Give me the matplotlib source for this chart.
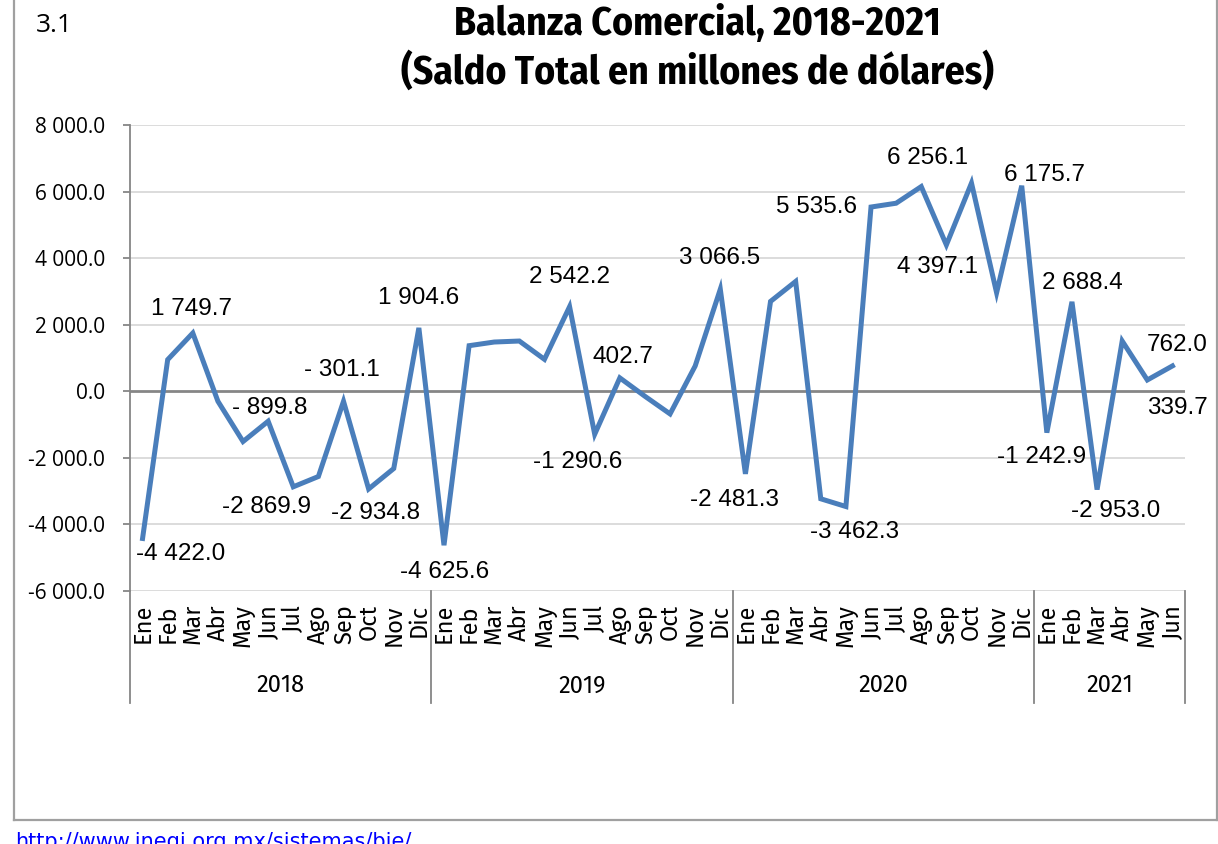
import matplotlib

matplotlib.use("Agg")
import matplotlib.pyplot as plt
from matplotlib.lines import Line2D


MONTHS = ["Ene", "Feb", "Mar", "Abr", "May", "Jun",
          "Jul", "Ago", "Sep", "Oct", "Nov", "Dic"]
YEARS = ["2018", "2019", "2020", "2021"]
MONTHS_PER_YEAR = [12, 12, 12, 6]

# saldo mensual, millones de dolares (read off the chart where no label is shown)
SALDO_2018 = [-4422.0, 950.0, 1749.7, -300.0, -1510.0, -899.8,
              -2869.9, -2560.0, -301.1, -2934.8, -2320.0, 1904.6]
SALDO_2019 = [-4625.6, 1370.0, 1480.0, 1510.0, 960.0, 2542.2,
              -1290.6, 402.7, -150.0, -680.0, 760.0, 3066.5]
SALDO_2020 = [-2481.3, 2700.0, 3300.0, -3230.0, -3462.3, 5535.6,
              5650.0, 6150.0, 4397.1, 6256.1, 2960.0, 6175.7]
SALDO_2021 = [-1242.9, 2688.4, -2953.0, 1510.0, 339.7, 762.0]

Y_TICKS = [-6000, -4000, -2000, 0, 2000, 4000, 6000, 8000]

# which points get a value label, and where (offset in pixels from the point)
LABEL_OFFSETS = {
    0: (38, -16), 2: (-1, 24), 5: (2, 13), 6: (-27, -20), 8: (-2, 31),
    9: (7, -24), 11: (0, 30), 12: (1, -27), 17: (0, 30), 18: (-17, -28),
    19: (3, 21), 23: (-1, 31), 24: (-11, -26), 28: (9, -25), 29: (-55, 0),
    32: (-9, -22), 33: (-44, 25), 35: (23, 11), 36: (-5, -24), 37: (10, 19),
    38: (19, -21), 40: (30, -28), 41: (5, 21),
}

W, H = 1218, 844
LINE_BLUE = "#4a7ebb"
GRID = "#d9d9d9"
AXIS_GRAY = "#868686"
NARROW = ["Fira Sans Condensed", "Asap Condensed", "PT Sans Narrow", "DejaVu Sans"]
SEMI = ["Fira Sans Semi Condensed", "Fira Sans", "DejaVu Sans"]
ARIAL = ["Liberation Sans", "DejaVu Sans"]
HUMANIST = ["Open Sans", "DejaVu Sans"]


def fmt(v: float) -> str:
    s = f"{abs(v):,.1f}".replace(",", " ")
    if v < 0:
        return ("- " if abs(v) < 1000 else "-") + s
    return s


def fx(px: float) -> float:
    return px / W


def fy(py: float) -> float:
    return 1 - py / H


saldo = SALDO_2018 + SALDO_2019 + SALDO_2020 + SALDO_2021
month_labels = []
for n in MONTHS_PER_YEAR:
    month_labels += MONTHS[:n]
x = list(range(len(saldo)))

fig = plt.figure(figsize=(W / 100, H / 100), dpi=100)
ax = fig.add_axes([fx(130), fy(591), fx(1185) - fx(130), fy(125) - fy(591)])

ax.set_xlim(-0.5, len(saldo) - 0.5)
ax.set_ylim(Y_TICKS[0], Y_TICKS[-1])

for t in Y_TICKS:
    if t == 0:
        continue
    ax.axhline(t, color=GRID, lw=1.3, zorder=1)
ax.axhline(0, color=AXIS_GRAY, lw=2.0, zorder=2)

ax.plot(x, saldo, color=LINE_BLUE, lw=3.6, solid_joinstyle="miter", zorder=3)

for i, (dx, dy) in LABEL_OFFSETS.items():
    ax.annotate(fmt(saldo[i]), (i, saldo[i]), xytext=(dx, dy),
                textcoords="offset pixels", ha="center", va="center",
                fontsize=17.5, family=ARIAL, color="black", zorder=4)

for side in ["top", "right", "bottom"]:
    ax.spines[side].set_visible(False)
ax.spines["left"].set_color(AXIS_GRAY)
ax.spines["left"].set_linewidth(1.3)

ax.set_yticks(Y_TICKS)
ax.set_yticklabels([fmt(t) for t in Y_TICKS], family=HUMANIST, fontsize=15)
ax.tick_params(axis="y", length=5, width=1.3, color=AXIS_GRAY, pad=13)
ax.set_xticks([])

# category axis: months and years
tr = ax.get_xaxis_transform()
for i, m in enumerate(month_labels):
    ax.text(i, -0.028, m, transform=tr, rotation=90, ha="center", va="top",
            fontsize=17, family=SEMI)

start = -0.5
for year, n in zip(YEARS, MONTHS_PER_YEAR):
    ax.plot([start, start], [0, -0.24], transform=tr, color=AXIS_GRAY,
            lw=1.3, clip_on=False)
    ax.text(start + n / 2, -0.203, year, transform=tr, ha="center",
            va="center", fontsize=17, family=SEMI)
    start += n
ax.plot([start, start], [0, -0.24], transform=tr, color=AXIS_GRAY,
        lw=1.3, clip_on=False)

# titles
fig.text(fx(697), fy(24), "Balanza Comercial, 2018-2021", ha="center",
         va="center", fontsize=28.5, fontweight="bold", family=NARROW)
fig.text(fx(697), fy(72), "(Saldo Total en millones de dólares)", ha="center",
         va="center", fontsize=28.5, fontweight="bold", family=NARROW)
fig.text(fx(36), fy(25), "3.1", ha="left", va="center", fontsize=19,
         family=HUMANIST)

# frame around the chart
for xs, ys in [([14, 14], [0, 820]), ([14, 1217], [820, 820]),
               ([1217, 1217], [0, 820])]:
    fig.add_artist(Line2D([fx(v) for v in xs], [fy(v) for v in ys],
                          color="#a0a0a0", lw=1.6))

fig.text(fx(15), fy(832), "http://www.inegi.org.mx/sistemas/bie/", ha="left",
         va="top", fontsize=15, color="#0000ff", family=["DejaVu Sans"])

fig.savefig("out.png", dpi=100)
